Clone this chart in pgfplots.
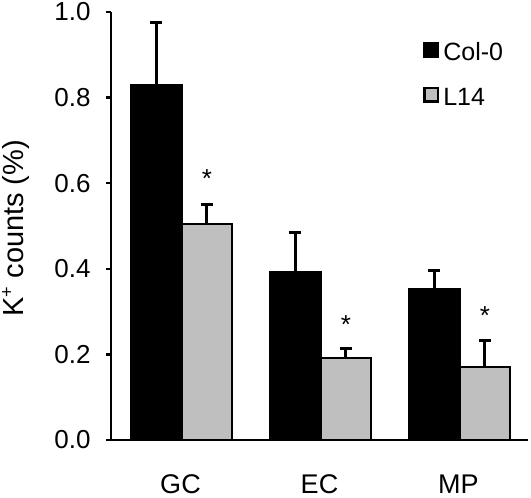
\documentclass[border=0pt]{standalone}
\usepackage{fontspec}
\setmainfont{Liberation Sans}
\usepackage{pgfplots}
\pgfplotsset{compat=1.18}
\definecolor{lgray}{RGB}{191,191,191}
\newcommand{\fsz}{\fontsize{13}{15.6}\selectfont}
\newcommand{\fszx}{\fontsize{13.5}{16}\selectfont}
\newcommand{\fszl}{\fontsize{12.5}{15}\selectfont}
\newcommand{\fszy}{\fontsize{14.5}{17.4}\selectfont}
\begin{document}
\begin{tikzpicture}
\useasboundingbox (-55.5pt,-29pt) rectangle (210pt,220pt);
\begin{axis}[
  scale only axis,
  width=208.5pt, height=214pt,
  at={(0,0)}, anchor=south west,
  xmin=0.5, xmax=3.5, ymin=0, ymax=1,
  axis x line*=bottom, axis y line*=left,
  axis line style={-, line width=1.25pt},
  every tick/.style={black, line width=1.25pt},
  tick align=outside,
  major tick length=2.5pt,
  minor tick length=4.5pt,
  xtick=\empty,
  minor xtick={0.5,1.5,2.5,3.5},
  extra x ticks={1,2,3},
  extra x tick labels={GC,EC,MP},
  extra x tick style={major tick length=0pt, tick label style={font=\fszx, yshift=-14pt}},
  ytick={0,0.2,0.4,0.6,0.8,1},
  /pgf/number format/assume math mode=true,
  yticklabel style={font=\fsz, xshift=-4.2pt, /pgf/number format/.cd, fixed, fixed zerofill, precision=1},
  ylabel={K\raisebox{0.36em}{\fontsize{9}{9}\selectfont +} counts (\%)},
  ylabel style={font=\fszy, at={(axis description cs:-0.229,0.495)}, anchor=center},
  legend style={draw=none, fill=none, font=\fszl, inner sep=0pt,
    at={(axis description cs:0.748,0.936)}, anchor=north west,
    row sep=11.75pt, column sep=0pt,
    nodes={inner xsep=2pt, inner ysep=0pt, text height=10.5pt, text depth=0pt}},
  legend cell align=left,
  ybar, bar width=0.365,
  error bars/error bar style={line width=1.5pt, black},
]
\addlegendimage{legend image code/.code={\draw[fill=black,draw=black,line width=1.2pt] (0.6pt,-3.4pt) rectangle (7.4pt,3.4pt);}}
\addlegendentry{Col-0}
\addlegendimage{legend image code/.code={\draw[fill=lgray,draw=black,line width=1.2pt] (0.6pt,-3.4pt) rectangle (7.4pt,3.4pt);}}
\addlegendentry{L14}
\addplot[forget plot, fill=black, draw=black, line width=1.2pt, bar shift=-0.175,
  error bars/.cd, y dir=plus, y explicit,
  error mark options={rotate=90, mark size=3pt, line width=1.5pt, black}]
  coordinates {(1,0.828) +- (0,0.147) (2,0.391) +- (0,0.093) (3,0.352) +- (0,0.044)};
\addplot[forget plot, fill=lgray, draw=black, line width=1.2pt, bar shift=0.19,
  error bars/.cd, y dir=plus, y explicit,
  error mark options={rotate=90, mark size=3pt, line width=1.5pt, black}]
  coordinates {(1,0.505) +- (0,0.046) (2,0.191) +- (0,0.022) (3,0.170) +- (0,0.062)};
\node[anchor=base, font=\fsz] at (axis cs:1.19,0.591) {*};
\node[anchor=base, font=\fsz] at (axis cs:2.19,0.249) {*};
\node[anchor=base, font=\fsz] at (axis cs:3.19,0.270) {*};
\end{axis}
\end{tikzpicture}
\end{document}
